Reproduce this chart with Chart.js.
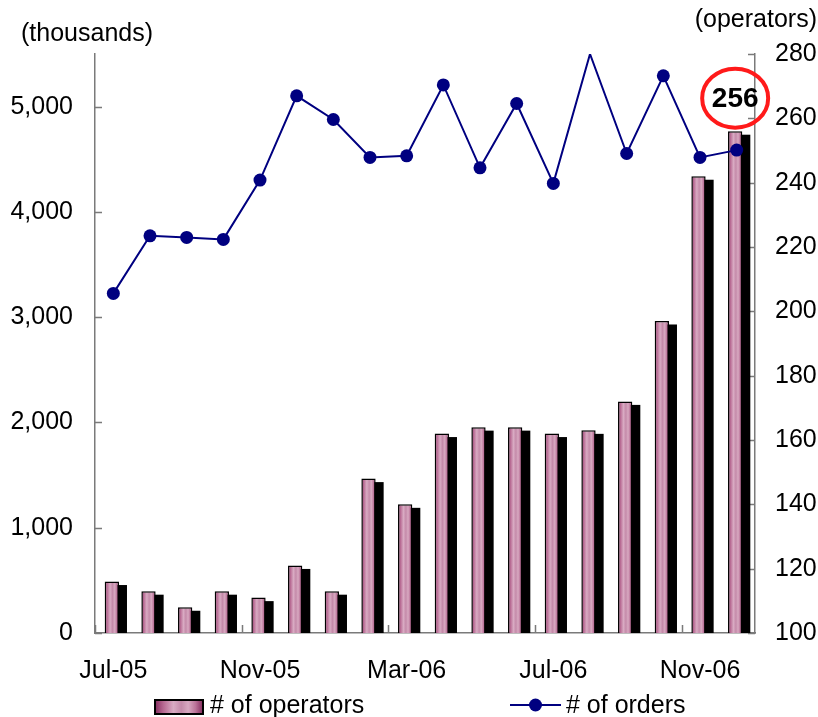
<!DOCTYPE html>
<html>
<head>
<meta charset="utf-8">
<title>Operators and orders, Jul-05 to Dec-06</title>
<script src="https://cdn.jsdelivr.net/npm/chart.js@4/dist/chart.umd.min.js"></script>
<style>
  html, body { margin: 0; padding: 0; background: #ffffff; }
  #wrap { width: 818px; height: 717px; }
</style>
</head>
<body>
<div id="wrap"><canvas id="c" width="818" height="717"></canvas></div>
<script>
// Monthly categories
const months = ['Jul-05','Aug-05','Sep-05','Oct-05','Nov-05','Dec-05','Jan-06','Feb-06','Mar-06',
                'Apr-06','May-06','Jun-06','Jul-06','Aug-06','Sep-06','Oct-06','Nov-06','Dec-06'];
// Number of operators (right axis)
const operators = [116, 113, 108, 113, 111, 121, 113, 148, 140, 162, 164, 164, 162, 163, 172, 197, 242, 256];
// Number of orders, thousands (left axis)
const ordersK = [3226, 3773, 3758, 3739, 4302, 5103, 4878, 4518, 4533, 5206, 4419, 5030, 4271, 5500, 4555, 5293, 4518, 4587];
// Axis ranges, tick values and units
const leftRange = [0, 5500];
const leftTicks = [0, 1000, 2000, 3000, 4000, 5000];
const rightRange = [100, 280];
const rightTicks = [100, 120, 140, 160, 180, 200, 220, 240, 260, 280];
const axisUnits = ['(thousands)', '(operators)'];
const seriesNames = ['# of operators', '# of orders'];
const labelEvery = 4;   // a category label every four months

const FONT = '"Liberation Sans", Arial, sans-serif';
const AXIS_GRAY = '#7a7a7a';
const NAVY = '#000080';
const BAR_PCT = 0.39;
const SHADOW_DX = 8, SHADOW_DY = 3.5, BAR_SHIFT = -1.5;

function barGradient(ctx2d, x0, x1) {
  const g = ctx2d.createLinearGradient(x0, 0, x1, 0);
  g.addColorStop(0, '#8a3464');
  g.addColorStop(0.16, '#b66891');
  g.addColorStop(0.38, '#d9abc3');
  g.addColorStop(0.55, '#c48aa9');
  g.addColorStop(0.7, '#d8a9c1');
  g.addColorStop(0.86, '#bb7399');
  g.addColorStop(1, '#8a3464');
  return g;
}

// Each bar gets its own left-to-right shading
function barFill(context) {
  const chart = context.chart;
  if (!chart.chartArea || context.dataIndex === undefined) return '#d4a3bd';
  const xs = chart.scales.x;
  const cx = xs.getPixelForValue(context.dataIndex);
  const w = xs.width / months.length * BAR_PCT;
  return barGradient(chart.ctx, cx - w / 2, cx + w / 2);
}

function ticksFrom(values) {
  return scale => { scale.ticks = values.map(v => ({ value: v })); };
}

// Solid black block offset behind every bar
const barShadow = {
  id: 'barShadow',
  beforeDatasetDraw(chart, args) {
    if (chart.data.datasets[args.index].type !== 'bar') return;
    const ctx = chart.ctx;
    const bottom = chart.chartArea.bottom;
    ctx.save();
    ctx.translate(BAR_SHIFT, 0);
    ctx.fillStyle = '#000000';
    args.meta.data.forEach(el => {
      const p = el.getProps(['x', 'y', 'base', 'width'], true);
      const top = p.y + SHADOW_DY;
      ctx.fillRect(p.x - p.width / 2 + SHADOW_DX, top, p.width, Math.min(p.base, bottom) - top);
    });
  },
  afterDatasetDraw(chart, args) {
    if (chart.data.datasets[args.index].type !== 'bar') return;
    chart.ctx.restore();
  }
};

// Tick marks pointing into the plot area
const innerTicks = {
  id: 'innerTicks',
  beforeDatasetsDraw(chart) {
    const { ctx, chartArea: a, scales } = chart;
    ctx.save();
    ctx.strokeStyle = AXIS_GRAY;
    ctx.lineWidth = 1.5;
    ctx.beginPath();
    scales.yL.ticks.forEach(t => {
      const y = Math.round(scales.yL.getPixelForValue(t.value)) + 0.5;
      ctx.moveTo(a.left, y); ctx.lineTo(a.left + 7, y);
    });
    scales.yR.ticks.forEach(t => {
      const y = Math.round(scales.yR.getPixelForValue(t.value)) + 0.5;
      ctx.moveTo(a.right, y); ctx.lineTo(a.right - 7, y);
    });
    for (let i = 0; i <= months.length; i += labelEvery) {
      const x = Math.round(scales.x.getPixelForValue(i - 0.5)) + 0.5;
      ctx.moveTo(x, a.bottom); ctx.lineTo(x, a.bottom - 8);
    }
    ctx.stroke();
    ctx.restore();
  }
};

// Unit captions above both value axes, the legend, and the latest-month callout
const decorations = {
  id: 'decorations',
  afterDraw(chart) {
    const { ctx } = chart;
    ctx.save();
    ctx.fillStyle = '#000000';
    ctx.font = '25px ' + FONT;
    ctx.textBaseline = 'middle';
    ctx.textAlign = 'left';
    ctx.fillText(axisUnits[0], 21, 34);
    ctx.textAlign = 'right';
    ctx.fillText(axisUnits[1], 817, 20);

    // legend: bar swatch
    const sx = 154, sy = 699, sw = 50, sh = 16;
    ctx.fillStyle = '#000000';
    ctx.fillRect(sx, sy, sw, sh);
    ctx.fillStyle = barGradient(ctx, sx + 2, sx + sw - 2);
    ctx.fillRect(sx + 2, sy + 2, sw - 4, sh - 4);
    ctx.fillStyle = '#000000';
    ctx.textAlign = 'left';
    ctx.fillText(seriesNames[0], 210, 706);

    // legend: line with marker
    ctx.strokeStyle = NAVY;
    ctx.lineWidth = 2;
    ctx.beginPath();
    ctx.moveTo(510, 705); ctx.lineTo(561, 705);
    ctx.stroke();
    ctx.fillStyle = NAVY;
    ctx.beginPath();
    ctx.arc(535.5, 705, 6.5, 0, Math.PI * 2);
    ctx.fill();
    ctx.fillStyle = '#000000';
    ctx.fillText(seriesNames[1], 566, 706);

    // callout on the latest operator count
    const meta = chart.getDatasetMeta(1);
    const last = operators.length - 1;
    const el = meta.data[last];
    const cx = el.x + BAR_SHIFT, cy = el.y - 33;
    ctx.strokeStyle = '#ff1a1a';
    ctx.lineWidth = 4;
    ctx.beginPath();
    ctx.ellipse(cx, cy, 33, 29.5, 0, 0, Math.PI * 2);
    ctx.stroke();
    ctx.fillStyle = '#000000';
    ctx.font = 'bold 28px ' + FONT;
    ctx.textAlign = 'center';
    ctx.fillText(String(operators[last]), cx, cy + 1);
    ctx.restore();
  }
};

const tickFont = { family: FONT, size: 25 };

new Chart(document.getElementById('c'), {
  data: {
    labels: months,
    datasets: [
      {
        type: 'line',
        label: seriesNames[1],
        data: ordersK,
        yAxisID: 'yL',
        borderColor: NAVY,
        backgroundColor: NAVY,
        borderWidth: 2,
        pointRadius: ctx => (ctx.raw >= leftRange[1] ? 0 : 6.5),
        pointBackgroundColor: NAVY,
        pointBorderWidth: 0,
        tension: 0
      },
      {
        type: 'bar',
        label: seriesNames[0],
        data: operators,
        yAxisID: 'yR',
        backgroundColor: barFill,
        borderColor: '#000000',
        borderWidth: 1.5,
        borderSkipped: 'bottom',
        barPercentage: BAR_PCT,
        categoryPercentage: 1.0
      }
    ]
  },
  options: {
    responsive: false,
    devicePixelRatio: 1,
    animation: false,
    layout: { padding: { top: 54, left: 0, right: 0, bottom: 0 } },
    plugins: {
      legend: { display: false },
      tooltip: { enabled: false }
    },
    scales: {
      x: {
        type: 'category',
        offset: true,
        grid: { display: false, drawTicks: false },
        border: { display: true, color: AXIS_GRAY, width: 1.5 },
        ticks: {
          autoSkip: false,
          maxRotation: 0,
          padding: 23,
          color: '#000000',
          font: tickFont,
          callback(value, index) { return index % labelEvery === 0 ? months[index] : ''; }
        },
        afterFit(scale) { scale.height = 84; }
      },
      yL: {
        type: 'linear',
        position: 'left',
        min: leftRange[0],
        max: leftRange[1],
        grid: { display: false, drawTicks: false },
        border: { display: true, color: AXIS_GRAY, width: 1.5 },
        afterBuildTicks: ticksFrom(leftTicks),
        ticks: {
          padding: 22,
          color: '#000000',
          font: tickFont,
          callback: v => v.toLocaleString('en-US')
        },
        afterFit(scale) { scale.width = 95; }
      },
      yR: {
        type: 'linear',
        position: 'right',
        min: rightRange[0],
        max: rightRange[1],
        grid: { display: false, drawTicks: false },
        border: { display: true, color: AXIS_GRAY, width: 1.5 },
        afterBuildTicks: ticksFrom(rightTicks),
        ticks: {
          padding: 20,
          color: '#000000',
          font: tickFont
        },
        afterFit(scale) { scale.width = 63; }
      }
    }
  },
  plugins: [barShadow, innerTicks, decorations]
});
</script>
</body>
</html>
